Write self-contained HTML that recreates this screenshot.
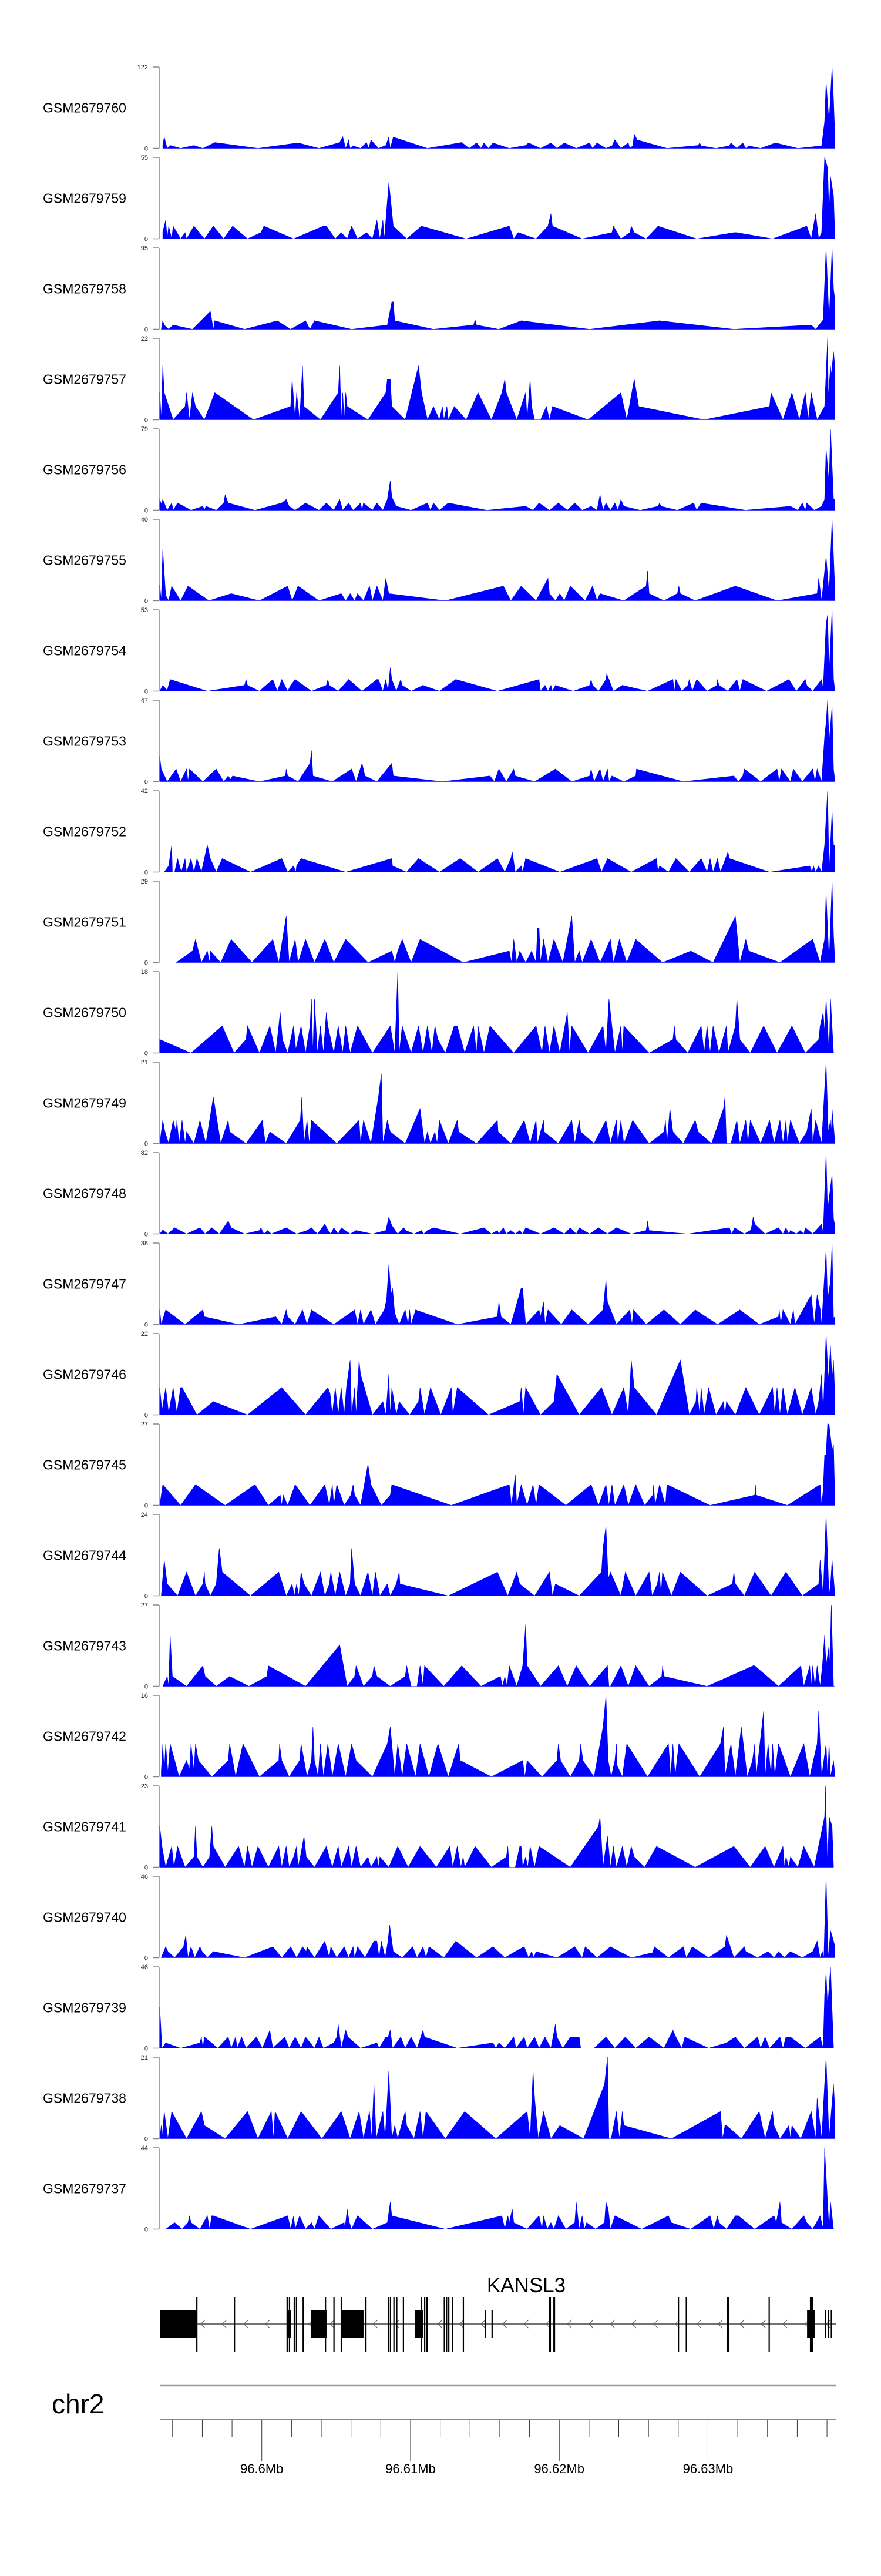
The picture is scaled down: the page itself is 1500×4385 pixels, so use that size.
<!DOCTYPE html>
<html><head><meta charset="utf-8"><title>KANSL3 coverage tracks</title>
<style>
html,body{margin:0;padding:0;background:#fff;}
body{width:1500px;height:4380px;overflow:hidden;font-family:"Liberation Sans",sans-serif;}
svg text{font-family:"Liberation Sans",sans-serif;}
</style></head>
<body>
<svg id="chart" width="1500" height="4380" viewBox="0 0 1500 4380" xmlns="http://www.w3.org/2000/svg"></svg>
<script>
// ---- data ----
const sampleNames=["GSM2679760","GSM2679759","GSM2679758","GSM2679757","GSM2679756","GSM2679755","GSM2679754","GSM2679753","GSM2679752","GSM2679751","GSM2679750","GSM2679749","GSM2679748","GSM2679747","GSM2679746","GSM2679745","GSM2679744","GSM2679743","GSM2679742","GSM2679741","GSM2679740","GSM2679739","GSM2679738","GSM2679737"];
const trackMax=[122,55,95,22,79,40,53,47,42,29,18,21,82,38,22,27,24,27,16,23,46,46,21,44];
const regionStartKb=96593.14;
const regionEndKb=96638.59;
const majorTicksKb=[96600,96610,96620,96630];
const majorTickLabels=["96.6Mb","96.61Mb","96.62Mb","96.63Mb"];
const minorTickStepKb=2;
const geneName="KANSL3";
// exons: [startKb offset, endKb offset, kind] kind: "utr"=mid box, "cds"=tall
const geneExons=[[0,2.48,"utr"],[2.45,2.52,"cds"],[4.98,5.04,"cds"],[8.55,8.81,"utr"],[8.52,8.6,"cds"],[8.68,8.76,"cds"],[9.0,9.08,"cds"],[9.15,9.23,"cds"],[9.6,9.68,"cds"],[10.17,11.22,"utr"],[11.1,11.18,"cds"],[11.67,11.75,"cds"],[12.2,13.7,"utr"],[12.16,12.24,"cds"],[13.82,13.9,"cds"],[15.32,15.4,"cds"],[15.47,15.55,"cds"],[15.7,15.78,"cds"],[15.89,15.97,"cds"],[16.34,16.42,"cds"],[17.17,17.7,"utr"],[17.54,17.62,"cds"],[17.77,17.85,"cds"],[17.92,18.0,"cds"],[19.09,19.17,"cds"],[19.24,19.32,"cds"],[19.39,19.47,"cds"],[19.65,19.73,"cds"],[20.37,20.45,"cds"],[21.85,21.9,"utr"],[22.3,22.36,"utr"],[26.18,26.3,"cds"],[26.46,26.58,"cds"],[34.83,34.89,"cds"],[35.36,35.42,"cds"],[38.14,38.28,"cds"],[40.93,40.99,"cds"],[43.52,44.05,"utr"],[43.71,43.93,"cds"],[44.7,44.76,"utr"],[44.92,44.98,"utr"],[45.11,45.17,"utr"]];

const cov1=[[0.2,5.3],[0.3,17],[0.5,0],[0.7,4.4],[1.4,0],[2.3,4.4],[2.9,0],[3.7,8.8],[6.6,0],[9.3,8.2],[10.7,0],[12.1,8.8],[12.3,17.6],[12.5,0],[12.7,12.6],[12.8,0],[13.0,3.8],[13.5,0],[13.9,8.8],[14.05,0],[14.2,12.6],[14.7,0],[15.2,4.4],[15.4,17],[15.5,0],[15.7,17],[18.0,0],[20.3,8.8],[20.8,0],[21.3,8.2],[21.6,0],[21.8,8.2],[22.1,0],[22.4,8.2],[23.5,0],[24.6,4.4],[24.8,8.2],[25.6,0],[26.3,8.2],[26.7,0],[27.2,8.2],[28.0,0],[28.9,8.2],[29.1,0],[29.4,8.2],[30.0,0],[30.4,3.8],[30.6,12.9],[31.0,0],[31.5,8.2],[31.6,0],[31.8,3.8],[31.9,21.5],[32.1,12.6],[34.1,0],[36.2,4.4],[36.3,8.2],[36.4,3.8],[37.4,0],[38.3,3.8],[38.4,8.2],[38.8,0],[39.2,8.2],[39.4,0],[39.6,3.8],[40.4,0],[41.4,8.2],[42.9,0],[44.5,3.8],[44.7,40],[44.8,100],[45.0,40],[45.2,122],[45.3,73],[45.4,14]];
const cov2=[[0.2,4.6],[0.4,12.6],[0.5,0],[0.6,8.6],[0.8,0],[0.9,8.6],[1.4,0],[1.7,4.2],[1.8,0],[2.3,8.6],[3.0,0],[3.6,8.6],[4.3,0],[4.9,8.6],[5.9,0],[6.8,4.2],[7.0,8.6],[9.0,0],[11.0,8.6],[11.2,8.6],[11.8,0],[12.2,4.2],[12.6,0],[12.9,8.6],[13.3,0],[13.9,4.2],[14.3,0],[14.6,12.6],[14.8,0],[15.0,12.6],[15.1,0],[15.4,38],[15.5,29],[15.7,8.6],[16.6,0],[17.6,8.6],[20.6,0],[23.5,8.6],[23.8,0],[24.1,4.2],[25.3,0],[26.1,8.6],[26.3,17],[26.4,8.6],[28.4,0],[30.4,4.2],[30.5,8.6],[31.0,0],[31.6,4.2],[31.7,8.6],[31.9,4.2],[32.7,0],[33.5,8.6],[36.1,0],[38.6,4.2],[38.8,4.2],[41.2,0],[43.5,8.6],[43.8,0],[44.1,17],[44.3,0],[44.5,4.2],[44.7,55],[44.9,48],[45.0,17],[45.1,42],[45.3,29],[45.4,0]];
const cov3=[[0.1,0],[0.2,10],[0.3,5],[0.6,0],[0.9,5],[2.2,0],[3.4,21],[3.6,0],[3.7,10],[5.7,0],[7.9,10],[8.8,0],[9.8,10],[10.1,0],[10.4,10],[12.9,0],[15.3,5],[15.6,32],[15.7,32],[15.8,10],[18.4,0],[21.1,5],[21.2,11],[21.3,5],[22.8,0],[24.3,10],[28.9,0],[33.6,10],[38.6,0],[43.8,5],[44.1,0],[44.6,11],[44.8,95],[45.0,10],[45.2,95],[45.3,47],[45.4,33]];
const cov4=[[0,7.5],[0.1,0],[0.2,14.6],[0.3,7.3],[0.9,0],[1.7,3.6],[1.8,7.3],[2.0,0],[2.2,7.3],[2.4,3.6],[3.0,0],[3.7,7.3],[6.3,0],[8.8,3.6],[8.9,11],[9.1,0],[9.2,7.3],[9.4,0],[9.6,14.6],[9.7,3.6],[10.8,0],[12.0,7.3],[12.1,14.6],[12.2,0],[12.3,7.3],[12.4,0],[12.5,7.3],[12.6,3.6],[14.0,0],[15.2,7.3],[15.3,11],[15.5,11],[15.6,3.6],[16.5,0],[17.4,14.6],[17.6,7.3],[18.0,0],[18.4,3.6],[18.8,0],[19.0,3.6],[19.1,0],[19.3,3.6],[19.4,0],[19.8,3.6],[20.6,0],[21.4,7.3],[22.3,0],[23.0,7.3],[23.2,11],[23.3,7.3],[24.0,0],[24.6,7.3],[24.7,0],[24.9,11],[25.0,3.6],[25.2,0],[25.6,0],[26.0,3.6],[26.2,0],[26.4,3.6],[28.8,0],[31.0,7.3],[31.4,0],[31.9,11],[32.2,3.6],[36.6,0],[41.0,3.6],[41.1,7.3],[41.9,0],[42.5,7.3],[43.0,0],[43.4,7.3],[43.6,0],[43.8,7.3],[44.2,0],[44.7,3.6],[44.9,22],[44.95,6.2],[45.1,14.6],[45.15,12],[45.3,18.4],[45.4,14]];
const cov5=[[0,10.5],[0.1,6],[0.2,10.5],[0.5,0],[0.8,7],[0.9,0],[1.2,7],[2.1,0],[2.9,3.8],[3.0,0],[3.1,3.8],[3.8,0],[4.3,7],[4.4,15],[4.6,7],[6.4,0],[8.2,7],[8.5,10.5],[8.7,3.8],[9.1,0],[9.8,7],[10.7,0],[11.2,7],[11.7,0],[12.1,10.5],[12.3,0],[12.7,7],[13.0,0],[13.5,7],[13.6,0],[13.7,7],[14.3,0],[14.6,7],[15.0,0],[15.3,10.5],[15.5,28.5],[15.6,12.8],[15.9,3.8],[16.9,0],[18.0,7],[18.2,0],[18.4,7],[18.8,0],[19.4,7],[22.0,0],[24.6,3.8],[25.1,0],[25.5,7],[26.2,0],[26.8,7],[27.4,0],[27.9,7],[28.4,0],[29.0,3.8],[29.4,0],[29.6,15],[29.8,0],[30.0,7],[30.3,0],[30.6,7],[30.8,0],[31.0,10.5],[31.2,3.8],[32.3,0],[33.5,3.8],[33.6,7],[33.7,3.8],[34.8,0],[35.9,7],[36.1,0],[36.4,7],[39.4,0],[42.4,3.8],[42.9,0],[43.2,7],[43.4,0],[43.5,7],[44.0,0],[44.5,3.8],[44.7,10.5],[44.8,60],[45.0,26],[45.1,79],[45.3,10.5],[45.4,10.5]];
const cov6=[[0,7.8],[0.1,0],[0.2,25],[0.4,2.6],[0.6,0],[0.8,7.2],[1.4,0],[1.9,7.2],[3.3,0],[4.8,3.5],[6.7,0],[8.6,7.2],[8.9,0],[9.3,7.2],[10.7,0],[12.2,3.5],[12.5,0],[12.8,3.5],[13.1,0],[13.3,3.5],[13.7,0],[14.1,7.2],[14.3,0],[14.6,7.2],[15.0,0],[15.2,11],[15.4,3.5],[19.2,0],[23.1,7.2],[23.6,0],[24.3,7.2],[25.3,0],[26.1,11],[26.2,3.5],[26.6,0],[26.9,3.5],[27.2,0],[27.6,7.2],[28.6,0],[29.1,7.2],[29.4,0],[29.6,3.5],[31.2,0],[32.7,7.2],[32.8,14.6],[32.9,3.5],[33.9,0],[34.8,3.5],[34.9,7.2],[35.0,3.5],[36.0,0],[38.7,7.2],[41.5,0],[44.2,3.5],[44.3,11],[44.5,0],[44.8,21.7],[45.0,3.5],[45.2,40],[45.4,3.5]];
const cov7=[[0,0],[0.2,3.8],[0.5,0.5],[0.7,7.6],[3.2,0],[5.7,3.8],[5.8,7.6],[5.9,3.8],[6.7,0],[7.6,7.6],[7.9,0],[8.2,7.6],[8.6,0],[8.8,3.8],[9.1,7.6],[10.2,0],[11.2,3.8],[11.3,7.6],[11.4,3.8],[12.0,0],[12.7,7.6],[13.6,0],[14.6,7.6],[14.7,7.6],[15.0,0],[15.2,7.6],[15.35,0],[15.5,15.3],[15.6,7.6],[15.9,0],[16.2,7.6],[16.3,3.8],[16.9,0],[17.7,3.8],[18.8,0],[19.9,7.6],[22.7,0],[25.5,7.6],[25.6,0],[25.9,3.8],[26.1,0],[26.3,3.8],[26.4,0],[26.6,3.8],[27.8,0],[28.9,3.8],[29.0,7.6],[29.1,3.8],[29.5,0],[30.0,7.6],[30.05,11.3],[30.2,7.6],[30.5,0],[31.1,3.8],[32.8,0],[34.5,7.6],[34.6,0],[34.7,7.6],[35.1,0],[35.5,3.8],[35.6,7.6],[35.8,0],[36.1,7.6],[36.8,0],[37.45,3.8],[37.5,7.6],[37.6,3.8],[38.2,0],[38.8,7.6],[39.0,0],[39.2,7.6],[40.8,0],[42.3,7.6],[42.8,0],[43.4,7.6],[43.5,3.8],[43.9,0],[44.5,7.6],[44.6,1],[44.8,44],[44.9,49.5],[45.0,11.8],[45.2,53],[45.3,7.6],[45.4,0]];
const cov8=[[0,14.6],[0.1,7.3],[0.5,0],[1.1,7.3],[1.4,0],[1.8,7.3],[1.9,0],[2.0,7.3],[2.9,0],[3.8,7.3],[4.3,0],[4.6,3.3],[4.75,1.3],[4.9,3.3],[6.7,0],[8.45,3.3],[8.5,7.3],[8.6,3.3],[9.3,0],[10.1,10.6],[10.2,18],[10.3,3.3],[11.6,0],[12.9,7.3],[13.2,0],[13.6,10.6],[13.8,3.3],[14.6,0],[15.6,10.6],[15.7,3.3],[19.0,0],[22.2,3.3],[22.5,0],[22.8,7.3],[23.3,0],[23.8,7.3],[23.9,3.3],[25.2,0],[26.6,7.3],[27.7,0],[28.9,3.3],[29.0,7.3],[29.2,0],[29.6,7.3],[29.8,0],[30.1,7.3],[30.2,0],[30.4,3.3],[31.2,0],[32.0,3.3],[32.05,7.3],[35.2,0],[38.6,3.3],[38.9,0],[39.2,3.3],[39.3,7.3],[40.4,0],[41.5,7.3],[41.65,0],[41.8,7.3],[42.4,0],[42.6,7.3],[43.2,0],[43.9,7.3],[44.05,0],[44.2,7.3],[44.5,0],[44.7,26],[44.8,34],[44.9,47],[45.0,22.6],[45.2,43.5],[45.3,7.3],[45.4,0]];
const cov9=[[0.3,0],[0.6,3.2],[0.8,14],[0.85,0],[1.0,0],[1.2,7],[1.45,0],[1.7,7],[1.8,0],[2.1,7],[2.3,0],[2.5,7],[2.8,0],[3.2,14],[3.4,7],[3.8,0],[4.2,7],[6.1,0],[8.2,7],[8.6,0],[9.0,3.2],[9.15,0],[9.2,3.2],[9.5,7],[12.5,0],[15.6,7],[15.65,3.2],[16.6,0],[17.4,7],[18.8,0],[20.2,7],[21.4,0],[22.7,7],[23.2,0],[23.6,7],[23.7,10.4],[23.9,0],[24.3,3.2],[24.4,0],[24.6,7],[26.9,0],[29.4,7],[29.7,0],[30.1,7],[31.7,0],[33.4,7],[33.5,0],[33.6,3.2],[34.2,0],[34.7,7],[35.6,0],[36.4,7],[36.8,0],[37.0,7],[37.2,0],[37.5,7],[37.7,0],[38.2,10.4],[38.3,7],[41.0,0],[43.7,3.2],[43.85,0],[43.95,3.2],[44.1,0],[44.3,3.2],[44.5,0],[44.7,14],[44.9,42],[45.0,0],[45.2,31.5],[45.3,14],[45.4,14]];
const cov10=[[1.1,0],[2.2,4.1],[2.4,8.3],[2.8,0],[3.2,4.1],[3.35,0],[3.4,4.1],[4.1,0],[4.8,8.3],[6.2,0],[7.6,8.3],[8.0,0],[8.5,16.5],[8.7,0],[9.1,8.3],[9.3,0],[9.8,8.3],[10.4,0],[11.1,8.3],[11.7,0],[12.5,8.3],[14.0,0],[15.6,4.1],[15.8,0],[16.0,4.1],[16.3,8.3],[16.9,0],[17.5,8.3],[20.4,0],[23.5,4.1],[23.65,0],[23.8,8.3],[24.0,0],[24.2,4.1],[24.6,0],[25.0,4.1],[25.3,0],[25.4,12.4],[25.5,12.4],[25.6,0],[25.8,8.3],[26.1,0],[26.5,8.3],[27.1,0],[27.7,16.5],[27.9,0],[28.2,4.1],[28.4,0],[29.0,8.3],[29.6,0],[30.3,8.3],[30.5,0],[30.9,8.3],[31.4,0],[32.0,8.3],[33.8,0],[35.7,4.1],[37.2,0],[38.7,16.5],[38.85,8.3],[39.0,0],[39.4,8.3],[39.6,4.1],[41.7,0],[43.9,8.3],[44.4,0],[44.7,8.3],[44.8,25],[45.0,0],[45.2,29],[45.3,9.7],[45.4,0]];
const cov11=[[0,3],[2.1,0],[4.2,6],[5.0,0],[5.8,3],[5.9,6],[6.7,0],[7.4,6],[7.8,0],[8.1,9],[8.25,3],[8.6,0],[9.0,6],[9.15,0.8],[9.5,6],[9.8,0],[10.1,6],[10.2,12],[10.3,0],[10.4,12],[10.6,0],[10.8,6],[11.0,0],[11.2,9],[11.3,6],[11.7,0],[12.0,6],[12.3,0],[12.5,6],[12.8,0],[13.3,6],[14.3,0],[15.5,6],[15.8,0],[16.0,18],[16.1,0],[16.3,6],[16.9,0],[17.4,6],[17.7,0],[18.0,6],[18.3,0],[18.5,6],[18.7,3],[19.2,0],[19.8,6],[20.0,6],[20.5,0],[21.1,6],[21.3,0],[21.4,6],[21.8,0],[22.2,6],[23.8,0],[25.3,6],[25.7,0],[25.9,6],[26.2,0],[26.5,6],[26.9,0],[27.4,9],[27.55,0],[27.7,6],[28.8,0],[29.8,6],[30.0,0],[30.2,12],[30.6,0],[31.0,6],[31.1,0],[31.2,6],[32.9,0],[34.5,3],[34.6,6],[34.7,3],[35.5,0],[36.4,6],[36.6,0],[36.8,6],[37.0,0],[37.2,6],[37.6,0],[38.1,6],[38.2,0],[38.7,6],[38.8,12],[39.0,3],[39.7,0],[40.6,6],[41.5,0],[42.5,6],[43.4,0],[44.3,3],[44.4,6],[44.6,9],[44.7,4.7],[44.8,12],[45.0,0],[45.1,12],[45.3,0],[45.4,0]];
const cov12=[[0,0],[0.2,6],[0.35,3],[0.6,0],[0.9,6],[1.1,3],[1.15,6],[1.3,0],[1.5,6],[1.7,0],[1.8,3],[2.3,0],[2.7,6],[3.1,0],[3.6,12],[4.1,0],[4.6,6],[4.7,3],[5.8,0],[6.9,6],[7.1,0],[7.4,3],[8.5,0],[9.45,6],[9.55,12],[9.7,0],[9.9,6],[10.05,0],[10.2,6],[11.9,0],[13.4,6],[13.5,0],[13.7,6],[14.2,0],[14.7,12],[14.9,18],[15.0,0],[15.3,6],[15.5,3],[16.5,0],[17.5,9],[17.6,6],[17.8,0],[18.0,3],[18.2,0],[18.5,3],[18.65,0],[18.8,6],[19.4,0],[20.0,6],[20.1,3],[21.3,0],[22.7,6],[22.75,3],[23.6,0],[24.5,6],[24.9,0],[25.3,6],[25.4,0],[25.8,6],[25.85,3],[26.8,0],[27.7,6],[27.9,0],[28.2,6],[28.3,3],[29.2,0],[30.0,6],[30.3,0],[30.7,6],[30.8,0],[31.0,6],[31.2,0],[31.8,6],[32.9,0],[33.9,3],[34.0,6],[34.1,0],[34.3,9],[34.5,3],[35.2,0],[36.0,6],[36.2,3],[37.1,0],[37.9,9],[38.0,12],[38.1,0],[38.4,0],[38.8,6],[39.0,0],[39.4,6],[39.55,0],[39.7,6],[40.4,0],[41.0,6],[41.3,0],[41.7,6],[41.9,0],[42.1,6],[42.2,0],[42.4,6],[43.0,0],[43.5,3],[43.8,9],[43.9,0],[44.1,6],[44.5,0],[44.8,21],[44.95,3],[45.1,6],[45.15,3],[45.2,9],[45.4,0]];
const cov13=[[0,0],[0.2,4],[0.55,0],[1.0,6.3],[1.8,0],[2.7,6.3],[3.05,0],[3.5,6.3],[4.0,0],[4.6,13],[4.8,6.3],[5.7,0],[6.7,3.5],[6.8,6.3],[7.0,0],[7.25,3.5],[7.5,0],[8.5,6.3],[9.2,0],[9.9,3.5],[10.2,6.3],[10.6,0],[11.1,10],[11.3,4],[11.5,0],[11.7,6.3],[12.0,0],[12.2,6.3],[12.8,0],[13.2,3.5],[14.3,0],[15.2,3.5],[15.4,17],[15.6,8.6],[16.0,0],[16.4,6.3],[16.55,3.5],[17.1,0],[17.6,3.5],[17.75,0],[18.0,3.5],[18.4,6.3],[20.2,0],[21.8,6.3],[22.3,0],[22.7,3.5],[22.8,0],[23.1,6.3],[23.3,0],[23.6,3.5],[23.9,0],[24.2,3.5],[24.4,0],[24.6,6.3],[25.6,0],[26.5,6.3],[27.2,0],[27.6,6.3],[28.0,0],[28.2,6.3],[28.9,0],[29.5,6.3],[30.1,0],[30.7,6.3],[31.7,0],[32.7,3.5],[32.8,13],[32.9,3.5],[35.5,0],[38.3,6.3],[38.45,0],[38.65,6.3],[39.3,0],[39.75,4],[39.9,17],[40.0,10],[40.7,0],[41.6,6.3],[41.9,0],[42.1,6.3],[42.3,0],[42.4,3.5],[42.8,0],[43.05,3.5],[43.3,0],[43.4,6.3],[43.9,0],[44.5,10],[44.6,0],[44.8,82],[44.9,24],[45.2,60],[45.3,15.6],[45.4,7.5]];
const cov14=[[0,6.8],[0.1,0],[0.4,6.8],[1.7,0],[2.9,6.8],[3.0,3.6],[5.3,0],[7.8,3.6],[8.2,0],[8.5,6.8],[8.6,3.6],[9.1,0],[9.6,6.8],[9.9,0],[10.2,6.8],[11.7,0],[13.1,6.8],[13.3,0],[13.5,6.8],[13.7,0],[14.2,6.8],[14.5,0],[15.1,6.8],[15.25,11.7],[15.4,27.9],[15.55,13.9],[15.65,17],[15.8,5.2],[16.1,0],[16.5,6.8],[16.7,0],[16.8,6.8],[16.9,0],[17.2,6.8],[20.0,0],[22.7,3.6],[22.8,10.6],[22.95,3.6],[23.6,0],[24.3,17],[24.4,17],[24.6,0],[25.5,6.8],[25.6,3.6],[25.8,10.6],[25.9,0],[26.1,6.8],[27.0,0],[27.7,6.8],[28.8,0],[29.8,6.8],[30.0,20.8],[30.1,10.6],[30.7,0],[31.6,6.8],[31.75,0],[31.85,6.8],[32.7,0],[33.9,6.8],[35.0,0],[36.0,6.8],[37.5,0],[39.0,6.8],[40.3,0],[41.6,3.6],[41.65,6.8],[41.75,0],[41.9,6.8],[42.4,0],[42.6,6.8],[42.7,0],[43.8,13.8],[44.0,0],[44.2,13.8],[44.4,7.3],[44.5,0],[44.8,35],[44.9,11.7],[45.1,20.2],[45.2,38],[45.3,3],[45.4,3.6]];
const cov15=[[0,7.4],[0.15,1.1],[0.4,7.4],[0.6,0.5],[0.9,7.4],[1.15,0.5],[1.4,7.4],[1.5,7.4],[2.5,0],[3.6,3.6],[5.9,0],[8.2,7.4],[9.8,0],[11.3,7.4],[11.45,5.8],[11.6,0],[11.8,7.4],[12.0,0],[12.2,7.4],[12.4,0],[12.55,7.4],[12.8,14.8],[12.9,0],[13.1,7.4],[13.2,0],[13.4,14.8],[13.5,11],[14.3,0],[15.0,3.6],[15.2,0],[15.4,11],[15.5,0],[15.6,7.4],[15.9,0],[16.1,3.6],[16.8,0],[17.4,3.6],[17.5,7.4],[17.8,0],[18.2,7.4],[18.9,0],[19.6,7.4],[19.7,0],[20.0,7.4],[22.1,0],[24.2,3.6],[24.3,7.4],[24.45,0],[24.6,7.4],[25.6,0],[26.5,3.6],[26.7,11],[28.2,0],[29.7,7.4],[30.4,0],[31.2,7.4],[31.5,0],[31.7,14.8],[31.9,7.4],[33.4,0],[35.0,14.8],[35.6,0],[36.05,3.6],[36.1,7.4],[36.3,0],[36.4,7.4],[36.6,0],[36.9,7.4],[37.4,0],[37.9,3.6],[38.0,0],[38.1,3.6],[38.7,0],[39.4,7.4],[40.3,0],[41.2,7.4],[41.35,0],[41.5,7.4],[41.7,0],[41.9,7.4],[42.2,0],[42.7,7.4],[43.2,0],[43.8,7.4],[44.1,0],[44.3,3.6],[44.5,11],[44.6,0],[44.8,22],[44.95,9.6],[45.1,18.5],[45.2,9.6],[45.3,14.8],[45.4,3.6]];
const cov16=[[0,0],[0.2,6.9],[1.4,0],[2.4,6.9],[4.4,0],[6.4,6.9],[7.3,0],[8.1,3.4],[8.2,0],[8.3,3.4],[8.6,0],[9.1,6.9],[10.1,0],[11.1,6.9],[11.4,0],[11.6,6.9],[11.7,0],[11.9,6.9],[12.4,0],[12.85,3.4],[13.0,6.9],[13.1,3.4],[13.5,0],[14.0,13.6],[14.2,6.9],[14.9,0],[15.5,3.4],[15.6,6.9],[19.6,0],[23.5,6.9],[23.65,0],[23.9,10.2],[24.0,0],[24.3,6.9],[24.7,0],[25.1,6.9],[25.3,0],[25.5,6.9],[27.3,0],[29.0,6.9],[29.5,0],[30.0,6.9],[30.2,0],[30.4,6.9],[30.6,0],[31.2,6.9],[31.5,0],[32.0,6.9],[32.6,0],[33.15,3.4],[33.2,6.9],[33.3,0],[33.6,6.9],[34.0,0],[34.1,6.9],[37.0,0],[40.0,3.4],[40.05,6.9],[40.1,3.4],[42.2,0],[44.4,6.9],[44.5,0],[44.6,5],[44.7,16.8],[44.8,16.8],[44.9,27],[45.0,27],[45.2,18.4],[45.3,20],[45.4,0]];
const cov17=[[0.1,0],[0.3,10.6],[0.5,3.5],[1.2,0],[1.8,7],[2.4,0],[2.9,3.5],[3.0,7],[3.05,3.5],[3.4,0],[3.8,3.5],[4.0,14],[4.2,7],[6.1,0],[8.0,7],[8.5,0],[8.9,3.5],[9.05,0],[9.2,3.5],[9.35,0],[9.5,7],[9.7,3.5],[10.2,0],[10.8,7],[11.1,0],[11.4,3.5],[11.5,7],[11.8,0],[12.1,7],[12.5,0],[12.8,3.5],[12.9,14],[13.1,3.5],[13.5,0],[14.0,7],[14.3,0],[14.5,7],[14.8,0],[15.3,3.5],[15.5,0],[15.9,3.5],[16.1,7],[16.15,3.5],[19.4,0],[22.7,7],[23.4,0],[24.0,7],[24.2,3.5],[25.2,0],[26.2,7],[26.3,3.5],[26.4,0],[26.6,3.5],[28.2,0],[29.7,7],[29.8,14],[30.0,20.7],[30.15,5],[30.3,7],[31.0,0],[31.3,7],[32.0,0],[32.9,7],[33.1,0],[33.45,3.5],[33.6,7],[33.7,0],[33.8,7],[34.4,0],[35.0,7],[36.8,0],[38.5,3.5],[38.6,7],[38.7,3.5],[39.3,0],[40.0,7],[41.1,0],[42.1,7],[43.2,0],[44.3,3.5],[44.4,10.6],[44.6,0],[44.8,24],[45.0,0],[45.1,3.5],[45.2,10.6],[45.4,0]];
const cov18=[[0.2,0],[0.5,3.3],[0.6,0],[0.7,17],[0.85,3.3],[1.8,0],[2.9,6.8],[3.05,3.3],[3.8,0],[4.7,3.3],[6.0,0],[7.2,3.3],[7.3,6.8],[9.8,0],[12.1,13.7],[12.6,0],[13.1,3.3],[13.2,6.8],[13.7,0],[14.3,3.3],[14.4,6.8],[14.6,3.3],[15.5,0],[16.5,3.3],[16.6,6.8],[16.9,0],[17.3,0],[17.5,6.8],[17.7,0],[17.8,6.8],[19.1,0],[20.3,6.8],[21.6,0],[22.9,3.3],[23.05,0],[23.2,3.3],[23.35,0],[23.5,6.8],[24.0,0],[24.4,6.8],[24.6,20.5],[24.7,6.8],[25.6,0],[26.8,6.8],[27.4,0],[28.0,6.8],[28.9,0],[30.1,6.8],[30.2,0],[30.3,0],[31.0,6.8],[31.5,0],[32.0,6.8],[32.9,0],[33.75,3.3],[33.8,6.8],[33.9,3.3],[36.8,0],[39.9,6.8],[40.0,6.8],[41.6,0],[43.1,6.8],[43.3,0],[43.5,3.3],[43.7,6.8],[43.8,0],[43.9,6.8],[44.05,0],[44.2,6.8],[44.4,0],[44.55,6.8],[44.7,17],[44.8,6.8],[45.0,13.7],[45.05,6.8],[45.15,27],[45.3,0],[45.4,0]];
const cov19=[[0.1,1.1],[0.2,6.5],[0.3,1.1],[0.4,6.5],[0.55,0.8],[0.7,6.5],[1.3,0],[1.8,3.2],[2.0,1.5],[2.1,6.5],[2.3,1.1],[2.4,6.5],[2.6,3.2],[3.5,0],[4.6,3.2],[4.7,6.5],[5.1,0],[5.6,6.5],[6.7,0],[8.0,3.2],[8.05,6.5],[8.2,3.2],[8.7,0],[9.4,3.2],[9.5,6.5],[9.9,0],[10.2,3.2],[10.3,9.8],[10.4,3.2],[10.65,0],[10.8,6.5],[11.0,0],[11.3,6.5],[11.6,0],[12.0,6.5],[12.5,0],[12.9,6.5],[13.2,3.2],[14.3,0],[15.3,6.5],[15.5,9.8],[15.6,6.5],[15.8,0],[16.0,6.5],[16.3,0],[16.6,6.5],[17.2,0],[17.5,6.5],[18.1,0],[18.7,6.5],[19.4,0],[20.1,6.5],[20.2,3.2],[22.3,0],[24.4,3.2],[24.55,0],[24.7,3.2],[25.7,0],[26.7,3.2],[26.8,6.5],[26.95,3.2],[27.6,0],[28.2,3.2],[28.3,6.5],[28.45,3.2],[29.2,0],[29.8,9.8],[30.0,16],[30.15,3.2],[30.35,0],[30.6,3.2],[30.7,6.5],[30.75,2.2],[31.1,0],[31.4,6.5],[32.8,0],[34.2,6.5],[34.35,0],[34.5,6.5],[34.65,0],[34.9,6.5],[36.3,0],[37.7,6.5],[37.9,9.8],[38.0,0],[38.4,6.5],[38.7,0],[39.1,9.8],[39.5,0],[39.85,3.2],[40.0,6.5],[40.1,0],[40.6,13],[40.7,0],[40.9,6.5],[41.1,0],[41.2,6.5],[41.35,0],[41.6,6.5],[42.4,0],[43.3,6.5],[43.7,0],[44.2,6.5],[44.3,13],[44.5,0],[44.8,6.5],[44.9,0],[45.0,6.5],[45.1,0],[45.3,3.2],[45.4,0]];
const cov20=[[0,11.6],[0.15,5.9],[0.4,0],[0.8,5.9],[0.95,0],[1.2,5.9],[1.7,0],[2.3,2.9],[2.4,11.6],[2.5,2.9],[2.9,0],[3.35,2.9],[3.5,11.6],[3.6,5.9],[4.4,0],[5.3,5.9],[5.7,0],[5.9,5.9],[6.2,0],[6.6,5.9],[7.3,0],[8.0,5.9],[8.2,0],[8.5,5.9],[8.7,0],[9.0,2.9],[9.2,5.9],[9.3,0],[9.45,2.9],[9.7,8.8],[9.85,2.9],[10.4,0],[11.2,5.9],[11.6,0],[12.0,5.9],[12.2,0],[12.7,5.9],[12.9,0],[13.2,5.9],[13.5,0],[14.0,2.9],[14.2,0],[14.6,2.9],[14.7,0],[14.8,2.9],[15.4,0],[16.0,5.9],[16.7,0],[17.5,5.9],[18.6,0],[19.5,5.9],[19.7,0],[20.0,5.9],[20.25,0],[20.4,2.9],[20.5,0],[21.2,5.9],[22.3,0],[23.3,2.9],[23.4,5.9],[23.5,0],[23.9,0],[24.2,5.9],[24.3,5.9],[24.4,0],[24.6,2.9],[24.75,0],[24.9,5.9],[25.2,0],[25.5,5.9],[27.6,0],[29.5,11.6],[29.6,14.3],[29.8,0],[30.1,8.8],[30.3,0],[30.5,5.9],[30.7,0],[31.1,5.9],[31.4,0],[31.7,5.9],[31.9,2.9],[32.6,0],[33.4,5.9],[36.0,0],[38.6,5.9],[39.7,0],[40.7,5.9],[41.3,0],[41.9,5.9],[42.0,0],[42.1,2.9],[42.3,0],[42.4,2.9],[42.9,0],[43.3,5.9],[44.0,0],[44.7,14.3],[44.75,23],[44.9,0],[45.0,14.3],[45.2,11.6],[45.3,0]];
const cov21=[[0.1,0],[0.4,6.2],[0.55,3.5],[1.0,0],[1.6,6.2],[1.75,12.7],[1.9,0],[2.1,6.2],[2.35,0],[2.7,6.2],[2.85,3.5],[3.2,0],[3.6,3.5],[5.7,0],[7.6,6.2],[8.2,0],[8.8,6.2],[9.2,0],[9.6,6.2],[9.85,3.5],[9.9,6.2],[10.4,0],[11.1,9.4],[11.4,0],[11.5,6.2],[11.9,0],[12.4,6.2],[12.7,0],[13.0,6.2],[13.1,0],[13.3,6.2],[13.8,0],[14.4,9.4],[14.6,9.4],[14.75,0],[14.9,9.4],[15.15,0],[15.35,9.4],[15.45,18.6],[15.55,12.7],[15.7,3.5],[16.3,0],[17.0,6.2],[17.3,0],[17.7,6.2],[17.9,0],[18.1,6.2],[19.1,0],[19.9,9.4],[21.3,0],[22.4,6.2],[23.2,0],[23.9,3.5],[24.5,6.2],[24.8,0],[25.0,3.5],[25.15,0],[25.3,3.5],[26.7,0],[27.9,6.2],[28.4,0],[28.6,6.2],[29.4,0],[30.3,6.2],[31.7,0],[33.15,2.9],[33.25,6.2],[34.2,0],[35.2,6.2],[35.4,0],[35.8,6.2],[36.9,0],[38.0,6.2],[38.1,12.7],[38.6,0],[39.3,6.2],[39.4,3.5],[40.2,0],[40.9,3.5],[41.3,0],[41.6,3.5],[42.0,0],[42.4,3.5],[43.2,0],[43.9,3.5],[44.2,9.4],[44.4,0],[44.55,3.5],[44.65,0],[44.8,46],[44.95,0],[45.1,15.3],[45.3,9.4],[45.4,6.2]];
const cov22=[[0,23.3],[0.15,0],[0.4,3],[1.4,0],[2.7,3],[2.8,6.3],[2.9,0],[3.0,6.3],[3.9,0],[4.6,6.3],[4.8,0],[5.1,6.3],[5.2,0],[5.5,6.3],[5.8,0],[6.5,6.3],[6.9,0],[7.4,10.2],[7.6,0],[8.4,6.3],[8.7,0],[9.1,6.3],[9.5,0],[9.8,6.3],[10.4,0],[10.7,6.3],[11.0,0],[11.7,3],[11.9,6.3],[12.0,13.5],[12.2,0],[12.5,10.2],[12.65,6.3],[13.5,0],[14.6,3],[14.75,0],[15.2,6.3],[15.35,6.3],[15.5,10.2],[15.65,0],[16.2,6.3],[16.5,0],[16.9,6.3],[17.3,0],[17.7,10.2],[17.8,6.3],[20.0,0],[22.4,3],[22.6,0],[22.8,3],[23.2,0],[23.8,6.3],[23.95,0],[24.5,6.3],[24.7,0],[25.2,6.3],[25.5,0],[25.9,6.3],[26.3,0],[26.6,13.5],[26.7,6.3],[27.1,0],[27.6,6.3],[28.2,6.3],[28.3,0],[29.2,0],[30.0,6.3],[30.6,0],[31.3,6.3],[32.0,0],[32.9,6.3],[33.9,0],[34.5,10.2],[34.7,6.3],[35.1,0],[35.3,6.3],[36.9,0],[38.1,3],[38.7,6.3],[39.3,0],[40.2,6.3],[40.4,0],[40.7,6.3],[41.0,0],[41.7,6.3],[41.9,0],[42.1,6.3],[42.4,6.3],[43.4,0],[44.4,6.3],[44.6,0],[44.7,29.9],[44.8,43],[44.9,23.3],[45.1,46],[45.3,0]];
const cov23=[[0,0],[0.1,3.4],[0.15,0],[0.3,7],[0.55,0],[0.8,7],[1.8,0],[2.8,7],[3.0,3.4],[4.4,0],[5.9,7],[6.6,0],[7.5,7],[7.65,0],[7.75,7],[8.6,0],[9.5,7],[10.9,0],[12.2,7],[12.8,0],[13.4,7],[13.7,0],[14.1,7],[14.25,0],[14.4,14],[14.55,0],[15.0,7],[15.15,0],[15.4,17.5],[15.6,0],[15.8,3.4],[16.0,0],[16.5,7],[16.6,3.4],[17.1,0],[17.5,7],[17.7,0],[17.9,7],[19.2,0],[20.5,7],[22.6,0],[24.7,7],[24.9,0],[25.1,17.5],[25.2,10.5],[25.45,0],[25.8,7],[26.3,0],[26.9,3.4],[28.5,0],[29.9,14],[30.1,21],[30.2,0],[30.35,0],[30.7,7],[30.9,0],[31.1,7],[31.2,3.4],[34.4,0],[37.7,7],[37.85,0],[38.0,3.4],[38.1,3.4],[39.1,0],[40.3,7],[40.7,0],[41.2,7],[41.3,3.4],[41.7,0],[42.3,3.4],[42.4,0],[42.5,3.4],[43.1,0],[43.8,7],[44.1,0],[44.2,10.5],[44.5,0],[44.8,21],[45.0,0],[45.15,7],[45.3,14],[45.4,7]];
const cov24=[[0.4,0],[1.0,3.5],[1.5,0],[1.9,3.5],[2.0,7.2],[2.1,3.5],[2.7,0],[3.2,7.2],[3.35,0],[3.5,7.2],[3.6,7.2],[6.1,0],[8.6,7.2],[8.8,0],[9.0,7.2],[9.1,0],[9.4,7.2],[9.8,0],[10.2,3.5],[10.4,0],[10.7,7.2],[11.5,0],[12.4,3.5],[12.45,0],[12.6,10.9],[12.75,3.5],[12.9,0],[13.3,7.2],[14.3,0],[15.3,3.5],[15.5,14.6],[15.6,7.2],[19.2,0],[23.0,7.2],[23.2,0],[23.4,7.2],[23.5,3.5],[23.7,10.9],[23.8,3.5],[24.7,0],[25.5,7.2],[25.7,0],[25.8,7.2],[26.05,0],[26.3,3.5],[26.5,0],[26.8,7.2],[27.3,0],[27.9,3.5],[28.0,14.6],[28.2,0],[28.4,7.2],[28.55,0],[28.7,3.5],[29.3,0],[29.9,3.5],[30.0,14.6],[30.15,10.9],[30.3,0],[30.6,7.2],[32.4,0],[34.2,7.2],[34.4,3.5],[35.7,0],[37.0,7.2],[37.25,0],[37.5,7.2],[37.6,3.5],[38.1,0],[38.7,7.2],[38.9,7.2],[40.0,0],[41.3,7.2],[41.45,3.5],[41.7,14.6],[41.8,3.5],[42.5,0],[43.3,7.2],[43.5,3.5],[43.9,0],[44.4,7.2],[44.6,0],[44.7,44],[45.0,0],[45.1,14.6],[45.3,0]];
const coverageSeries=[cov1,cov2,cov3,cov4,cov5,cov6,cov7,cov8,cov9,cov10,cov11,cov12,cov13,cov14,cov15,cov16,cov17,cov18,cov19,cov20,cov21,cov22,cov23,cov24];

// ---- layout ----
const NS="http://www.w3.org/2000/svg";
const svg=document.getElementById('chart');
const plotLeft=272, plotRight=1423;
const trackTop0=114, trackPitch=154, trackH=138.5;
const spanKb=regionEndKb-regionStartKb;
function xOff(kb){return plotLeft+kb/spanKb*(plotRight-plotLeft);}
function xAbs(kbAbs){return xOff(kbAbs-regionStartKb);}
function mk(tag,attrs,parent){const e=document.createElementNS(NS,tag);for(const k in attrs)e.setAttribute(k,attrs[k]);(parent||svg).appendChild(e);return e;}

coverageSeries.forEach((series,i)=>{
  const top=trackTop0+i*trackPitch, bot=top+trackH, mx=trackMax[i];
  const yS=v=>bot-v/mx*trackH;
  const g=mk('g',{});
  
  
  const lab=mk('text',{x:73,y:top+trackH/2+8,'font-size':23,fill:'#000'},g);
  lab.textContent=sampleNames[i];
  
  
  const ax=mk('path',{d:`M${plotLeft-1} ${top}V${bot}M${plotLeft-12} ${top}H${plotLeft-1}M${plotLeft-12} ${bot}H${plotLeft-1}`,stroke:'#888','stroke-width':1.5,fill:'none'},g);
  
  
  const tMax=mk('text',{x:252,y:top+4,'font-size':11,'text-anchor':'end',fill:'#222'},g);
  tMax.textContent=String(mx);
  
  
  const t0=mk('text',{x:252,y:bot+4,'font-size':11,'text-anchor':'end',fill:'#222'},g);
  t0.textContent='0';
  
  
  let d=`M${xOff(series[0][0]).toFixed(1)} ${bot}`;
  series.forEach(p=>{d+=`L${xOff(p[0]).toFixed(1)} ${yS(p[1]).toFixed(1)}`;});
  d+=`L${xOff(series[series.length-1][0]).toFixed(1)} ${bot}Z`;
  const area=mk('path',{d:d,fill:'#0000ff',stroke:'#0000ff','stroke-width':0.6},g);
  
  
});

// gene track
const geneG=mk('g',{});


const gname=mk('text',{x:896,y:3902,'font-size':35,'text-anchor':'middle',fill:'#000'},geneG);
gname.textContent=geneName;


const gLine=mk('line',{x1:plotLeft,x2:plotRight,y1:3956,y2:3956,stroke:'#444','stroke-width':1.5},geneG);


for(let kb=2.9;kb<45;kb+=1.45){
  const x=xOff(kb);
  const ch=mk('path',{d:`M${x+4} ${3949}L${x-4} ${3956}L${x+4} ${3963}`,stroke:'#555','stroke-width':1,fill:'none'},geneG);
  
  
}
geneExons.forEach(e=>{
  const x1=xOff(e[0]),x2=xOff(e[1]);
  const tall=e[2]==='cds';
  const r=mk('rect',{x:x1,y:tall?3910:3933,width:Math.max(2.2,x2-x1),height:tall?94:47,fill:'#000'},geneG);
  
  
});

// genome axis
const axG=mk('g',{});


const chr=mk('text',{x:88,y:4108,'font-size':46,fill:'#000'},axG);
chr.textContent='chr2';


const ideo=mk('line',{x1:plotLeft,x2:plotRight,y1:4061,y2:4061,stroke:'#999','stroke-width':2.5},axG);


const axl=mk('line',{x1:plotLeft,x2:plotRight,y1:4119,y2:4119,stroke:'#888','stroke-width':2},axG);


for(let kb=Math.ceil(regionStartKb/minorTickStepKb)*minorTickStepKb;kb<=regionEndKb;kb+=minorTickStepKb){
  const isMajor=majorTicksKb.includes(kb);
  const x=xAbs(kb);
  const t=mk('line',{x1:x,x2:x,y1:4119,y2:isMajor?4190:4149,stroke:'#333','stroke-width':1},axG);
  
  
}
majorTicksKb.forEach((kb,i)=>{
  const t=mk('text',{x:xAbs(kb),y:4210,'font-size':22,'text-anchor':'middle',fill:'#000'},axG);
  t.textContent=majorTickLabels[i];
  
  
});
</script>
</body></html>
